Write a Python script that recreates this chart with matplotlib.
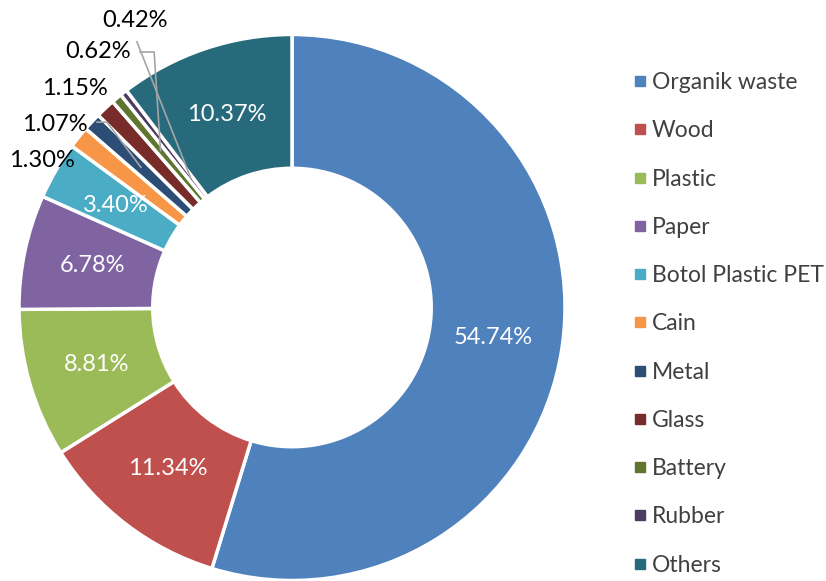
import matplotlib
matplotlib.use("Agg")
import matplotlib.pyplot as plt
from matplotlib.lines import Line2D
import numpy as np

categories = ["Organik waste", "Wood", "Plastic", "Paper", "Botol Plastic PET",
              "Cain", "Metal", "Glass", "Battery", "Rubber", "Others"]
values = [54.74, 11.34, 8.81, 6.78, 3.40, 1.30, 1.07, 1.15, 0.62, 0.42, 10.37]
labels = ["54.74%", "11.34%", "8.81%", "6.78%", "3.40%", "1.30%", "1.07%",
          "1.15%", "0.62%", "0.42%", "10.37%"]
colors = ["#4F81BD", "#C0504D", "#9BBB59", "#8064A2", "#4BACC6", "#F79646",
          "#2C4D75", "#772C2A", "#5F7530", "#4D3B62", "#276A7C"]

plt.rcParams['font.family'] = ['Lato', 'DejaVu Sans']
FS = 17
LFS = 16.5

W, H = 826, 581
fig = plt.figure(figsize=(W / 100, H / 100), dpi=100)
cx, cy, R = 292, 307.5, 273
ax = fig.add_axes([(cx - R) / W, (H - cy - R) / H, 2 * R / W, 2 * R / H])

wedges, _ = ax.pie(values, colors=colors, startangle=90, counterclock=False,
                   radius=1.0, wedgeprops=dict(width=0.49, edgecolor='white', linewidth=2.5))
ax.set_xlim(-1, 1)
ax.set_ylim(-1, 1)
ax.set_aspect('equal')
ax.axis('off')

inside = {0, 1, 2, 3, 4, 10}
for i, w in enumerate(wedges):
    ang = np.deg2rad((w.theta1 + w.theta2) / 2)
    if i in inside:
        r = 0.745
        ax.text(r * np.cos(ang), r * np.sin(ang), labels[i], ha='center', va='center',
                color='white', fontsize=FS)

# outside labels (layout positions)
out_pos = {5: (-0.916, 0.540), 6: (-0.868, 0.672), 7: (-0.795, 0.804),
           8: (-0.711, 0.936), 9: (-0.575, 1.053)}
for i, (x, y) in out_pos.items():
    ax.text(x, y, labels[i], ha='center', va='center', color='black', fontsize=FS,
            clip_on=False)

def mid(i, r):
    w = wedges[i]
    a = np.deg2rad((w.theta1 + w.theta2) / 2)
    return r * np.cos(a), r * np.sin(a)

lc = '#A6A6A6'
# Metal leader
ex, ey = mid(6, 0.755)
ax.plot([-0.714, -0.678, ex], [0.679, 0.679, ey], color=lc, lw=1.2, clip_on=False)
# Battery leader
ex, ey = mid(8, 0.75)
ax.plot([-0.557, -0.505, ex], [0.936, 0.936, ey], color=lc, lw=1.2, clip_on=False)
# Rubber leader
ex, ey = mid(9, 0.6)
ax.plot([-0.568, ex], [0.973, ey], color=lc, lw=1.2, clip_on=False)

handles = [Line2D([0], [0], marker='s', linestyle='none', markersize=7,
                  markerfacecolor=c, markeredgecolor=c) for c in colors]
fig.legend(handles, categories, loc='upper left', bbox_to_anchor=(633 / W, 1 - 72 / H),
           frameon=False, fontsize=LFS, labelspacing=1.19, handlelength=0.62,
           handletextpad=0.2, labelcolor='#404040', borderpad=0, borderaxespad=0)

fig.savefig("out.png", dpi=100)
